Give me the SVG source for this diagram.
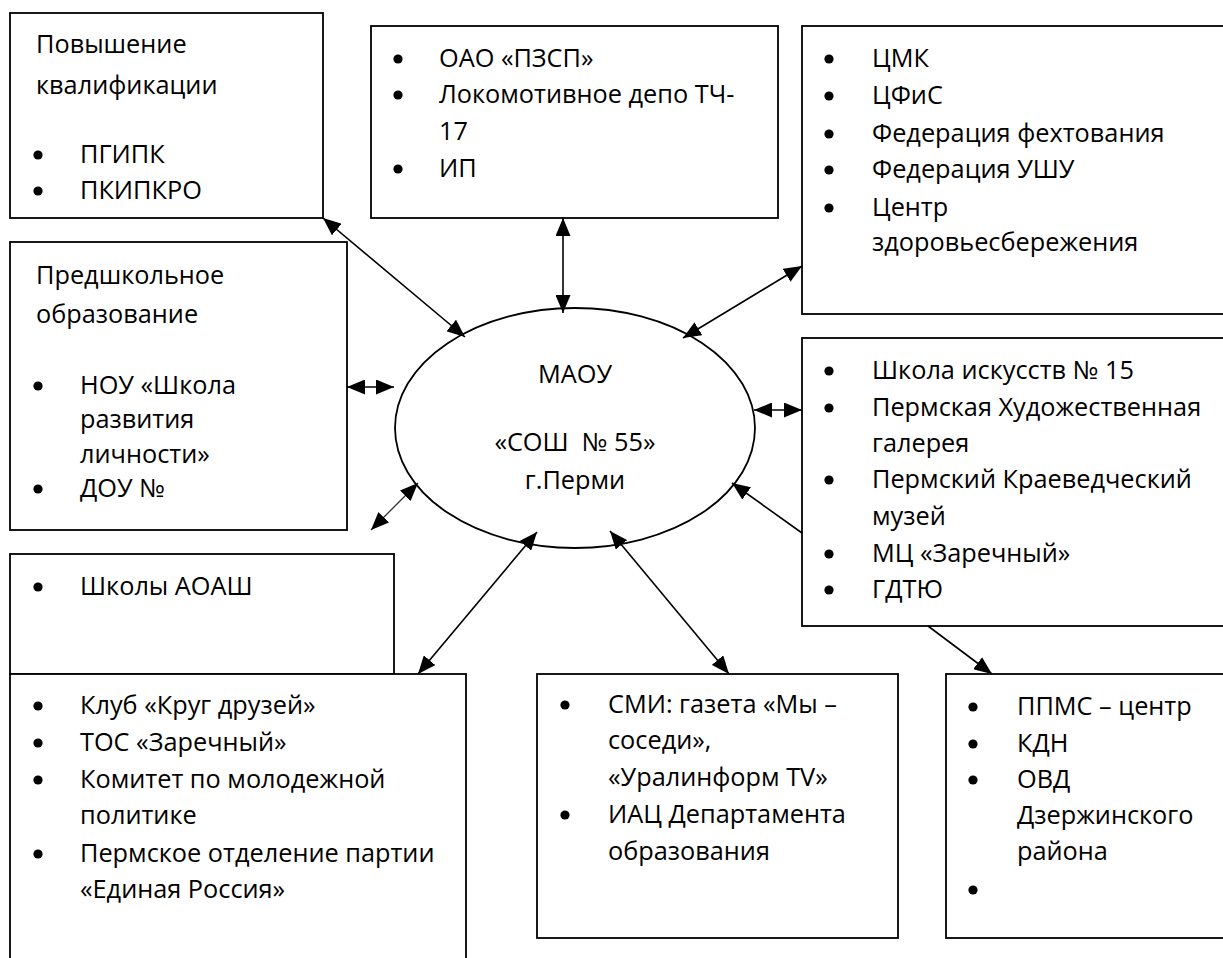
<svg xmlns="http://www.w3.org/2000/svg" width="1223" height="958" viewBox="0 0 1223 958">
<defs>
<style>
.box{fill:#fff;stroke:#000;stroke-width:1.8}
.t{font-family:"Open Sans","Noto Sans",sans-serif;font-size:25.3px;fill:#000}
.c{text-anchor:middle}
.b{fill:#000}
.ln{stroke:#000;stroke-width:1.6;fill:none}
.thin{stroke:#333;stroke-width:1.3;fill:none}
</style>
<marker id="ah" markerUnits="userSpaceOnUse" markerWidth="19" markerHeight="15" refX="18" refY="7.5" orient="auto-start-reverse" viewBox="0 0 19 15">
<path d="M0,0 L18,7.5 L0,15 z" fill="#000"/>
</marker>
<circle id="bul" r="4.6"/>
</defs>
<rect width="1223" height="958" fill="#fff"/>

<g id="node-qualification">
<rect class="box" x="10" y="13" width="313" height="205"/>
<text class="t" x="36" y="53">Повышение</text>
<text class="t" x="36" y="94">квалификации</text>
<use href="#bul" class="b" x="38" y="155"/>
<text class="t" x="80" y="163">ПГИПК</text>
<use href="#bul" class="b" x="38" y="191"/>
<text class="t" x="80" y="199">ПКИПКРО</text>
</g>

<g id="node-enterprises">
<rect class="box" x="371" y="26" width="407" height="192"/>
<use href="#bul" class="b" x="398" y="59"/>
<text class="t" x="439" y="67">ОАО «ПЗСП»</text>
<use href="#bul" class="b" x="398" y="95"/>
<text class="t" x="439" y="103">Локомотивное депо ТЧ-</text>
<text class="t" x="439" y="140">17</text>
<use href="#bul" class="b" x="398" y="169"/>
<text class="t" x="439" y="177">ИП</text>
</g>

<g id="node-sport">
<rect class="box" x="802" y="26" width="430" height="288"/>
<use href="#bul" class="b" x="829" y="59"/>
<text class="t" x="872" y="67">ЦМК</text>
<use href="#bul" class="b" x="829" y="96"/>
<text class="t" x="872" y="104">ЦФиС</text>
<use href="#bul" class="b" x="829" y="134"/>
<text class="t" x="872" y="142">Федерация фехтования</text>
<use href="#bul" class="b" x="829" y="170"/>
<text class="t" x="872" y="178">Федерация УШУ</text>
<use href="#bul" class="b" x="829" y="208"/>
<text class="t" x="872" y="216">Центр</text>
<text class="t" x="872" y="251">здоровьесбережения</text>
</g>

<g id="node-preschool">
<rect class="box" x="10" y="242" width="337" height="288"/>
<text class="t" x="36" y="284">Предшкольное</text>
<text class="t" x="36" y="323">образование</text>
<use href="#bul" class="b" x="38" y="386"/>
<text class="t" x="80" y="394">НОУ «Школа</text>
<text class="t" x="80" y="428">развития</text>
<text class="t" x="80" y="463">личности»</text>
<use href="#bul" class="b" x="38" y="489"/>
<text class="t" x="80" y="497">ДОУ №</text>
</g>

<g id="node-school">
<ellipse cx="575" cy="428" rx="180" ry="120" fill="#fff" stroke="#000" stroke-width="1.8"/>
<text class="t c" x="575" y="383">МАОУ</text>
<text class="t c" x="575" y="451" xml:space="preserve">«СОШ  № 55»</text>
<text class="t c" x="575" y="489">г.Перми</text>
</g>

<g id="node-culture">
<rect class="box" x="802" y="338" width="430" height="288"/>
<use href="#bul" class="b" x="829" y="371"/>
<text class="t" x="872" y="379">Школа искусств № 15</text>
<use href="#bul" class="b" x="829" y="408"/>
<text class="t" x="872" y="416">Пермская Художественная</text>
<text class="t" x="872" y="452">галерея</text>
<use href="#bul" class="b" x="829" y="480"/>
<text class="t" x="872" y="488">Пермский Краеведческий</text>
<text class="t" x="872" y="525">музей</text>
<use href="#bul" class="b" x="829" y="554"/>
<text class="t" x="872" y="562">МЦ «Заречный»</text>
<use href="#bul" class="b" x="829" y="590"/>
<text class="t" x="872" y="598">ГДТЮ</text>
</g>

<g id="node-aoash">
<rect class="box" x="10" y="554" width="384" height="120"/>
<use href="#bul" class="b" x="38" y="587"/>
<text class="t" x="80" y="595">Школы АОАШ</text>
</g>

<g id="node-public">
<rect class="box" x="10" y="674" width="456" height="300"/>
<use href="#bul" class="b" x="38" y="706"/>
<text class="t" x="80" y="714">Клуб «Круг друзей»</text>
<use href="#bul" class="b" x="38" y="743"/>
<text class="t" x="80" y="751">ТОС «Заречный»</text>
<use href="#bul" class="b" x="38" y="780"/>
<text class="t" x="80" y="788">Комитет по молодежной</text>
<text class="t" x="80" y="824">политике</text>
<use href="#bul" class="b" x="38" y="854"/>
<text class="t" x="80" y="862">Пермское отделение партии</text>
<text class="t" x="80" y="898">«Единая Россия»</text>
</g>

<g id="node-media">
<rect class="box" x="537" y="674" width="361" height="264"/>
<use href="#bul" class="b" x="565" y="705"/>
<text class="t" x="608" y="713">СМИ: газета «Мы –</text>
<text class="t" x="608" y="749">соседи»,</text>
<text class="t" x="608" y="786">«Уралинформ TV»</text>
<use href="#bul" class="b" x="565" y="815"/>
<text class="t" x="608" y="823">ИАЦ Департамента</text>
<text class="t" x="608" y="860">образования</text>
</g>

<g id="node-social">
<rect class="box" x="946" y="674" width="290" height="264"/>
<use href="#bul" class="b" x="973" y="707"/>
<text class="t" x="1017" y="715">ППМС – центр</text>
<use href="#bul" class="b" x="973" y="744"/>
<text class="t" x="1017" y="752">КДН</text>
<use href="#bul" class="b" x="973" y="780"/>
<text class="t" x="1017" y="788">ОВД</text>
<text class="t" x="1017" y="824">Дзержинского</text>
<text class="t" x="1017" y="860">района</text>
<use href="#bul" class="b" x="973" y="890"/>
</g>

<g id="connectors">
<line class="ln" x1="323" y1="218" x2="465" y2="337" marker-start="url(#ah)" marker-end="url(#ah)"/>
<line class="ln" x1="563" y1="218" x2="563" y2="313" marker-start="url(#ah)" marker-end="url(#ah)"/>
<line class="ln" x1="802" y1="266" x2="683" y2="338" marker-start="url(#ah)" marker-end="url(#ah)"/>
<line class="ln" x1="347" y1="387" x2="394" y2="387" marker-start="url(#ah)" marker-end="url(#ah)"/>
<line class="ln" x1="754" y1="410" x2="802" y2="410" marker-start="url(#ah)" marker-end="url(#ah)"/>
<line class="thin" x1="371" y1="530" x2="418" y2="483" marker-start="url(#ah)" marker-end="url(#ah)"/>
<line class="ln" x1="802" y1="533" x2="732" y2="483" marker-end="url(#ah)"/>
<line class="ln" x1="537" y1="532" x2="418" y2="674" marker-start="url(#ah)" marker-end="url(#ah)"/>
<line class="ln" x1="610" y1="531" x2="729" y2="674" marker-start="url(#ah)" marker-end="url(#ah)"/>
<line class="ln" x1="928" y1="626" x2="992" y2="674" marker-end="url(#ah)"/>
</g>
</svg>
